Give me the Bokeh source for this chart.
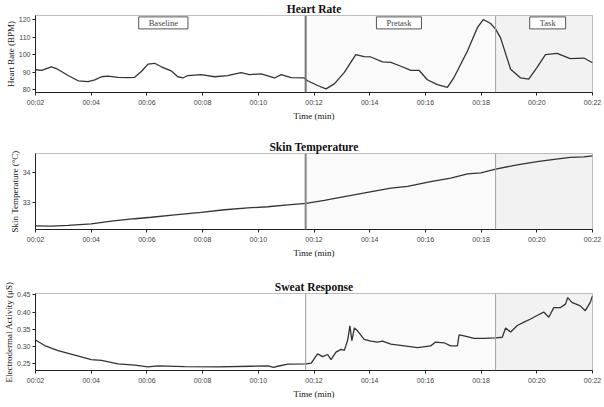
from bokeh.plotting import figure
from bokeh.layouts import column
from bokeh.models import FixedTicker, Label, BoxAnnotation, Span, Range1d, NumeralTickFormatter
from bokeh.embed import file_html
from bokeh.resources import INLINE

# ---------------- data ----------------
tick_pos = [2, 4, 6, 8, 10, 12, 14, 16, 18, 20, 22]
tick_labels = ["00:02", "00:04", "00:06", "00:08", "00:10", "00:12",
               "00:14", "00:16", "00:18", "00:20", "00:22"]

phase_names = ["Baseline", "Pretask", "Task"]
phase_start = [2.0, 11.7, 18.52]
phase_end = [11.7, 18.52, 22.0]
phase_label_t = [6.59, 15.05, 20.39]

hr_t = [2.0, 2.22, 2.57, 2.75, 2.93, 3.17, 3.53, 3.89, 4.13, 4.37, 4.6, 4.96, 5.32, 5.56,
        5.8, 6.04, 6.28, 6.52, 6.87, 7.11, 7.29, 7.47, 7.95, 8.43, 8.9, 9.38, 9.68, 10.1,
        10.58, 10.82, 11.18, 11.65, 11.77, 12.13, 12.43, 12.73, 13.09, 13.5, 13.8, 14.04,
        14.46, 14.76, 15.12, 15.48, 15.77, 16.07, 16.43, 16.79, 17.03, 17.51, 17.87, 18.08,
        18.34, 18.52, 18.7, 19.06, 19.42, 19.71, 20.01, 20.31, 20.73, 21.2, 21.69, 22.0]
hr_v = [91.3, 91, 93, 92, 90.3, 88, 85, 84.5, 85.5, 87.3, 87.7, 87, 86.8, 87,
        90.3, 94.5, 95, 93, 90.7, 87.3, 86.6, 88, 88.5, 87.3, 88, 89.6, 88.5, 89,
        86.6, 88.5, 86.8, 86.6, 85, 82.3, 80.4, 83.2, 89.8, 100, 98.8, 98.6,
        95.8, 95.5, 93.3, 91, 91, 85.6, 82.8, 81.2, 87, 102, 115.5, 120,
        117.7, 114.5, 109.5, 91.6, 86.6, 86, 92.6, 100, 100.6, 97.7, 98, 95.3]

temp_t = [2.0, 2.57, 3.17, 4.0, 4.72, 5.56, 6.16, 7.0, 7.95, 8.79, 9.63, 10.34, 11.06, 11.71,
          12.37, 13.09, 13.92, 14.76, 15.36, 16.19, 16.91, 17.51, 17.99, 18.52, 19.3, 20.01,
          20.49, 21.2, 21.69, 22.0]
temp_v = [32.23, 32.22, 32.25, 32.3, 32.39, 32.47, 32.52, 32.6, 32.68, 32.77, 32.83, 32.87,
          32.93, 32.98, 33.08, 33.21, 33.35, 33.49, 33.55, 33.71, 33.83, 33.97, 34.0, 34.13,
          34.27, 34.38, 34.44, 34.52, 34.54, 34.57]

eda_t = [2.0, 2.33, 2.81, 3.41, 4.0, 4.37, 4.96, 5.56, 6.04, 6.4, 7.35, 8.55, 9.74, 10.34,
         10.55, 10.7, 11.06, 11.71, 11.9, 12.13, 12.31, 12.49, 12.61, 12.79, 12.97, 13.09,
         13.21, 13.29, 13.36, 13.45, 13.57, 13.8, 14.04, 14.28, 14.46, 14.76, 15.24, 15.72,
         16.19, 16.37, 16.67, 16.91, 17.15, 17.21, 17.39, 17.75, 18.1, 18.52, 18.76, 18.88,
         19.06, 19.3, 19.54, 19.78, 20.01, 20.25, 20.43, 20.61, 20.85, 21.03, 21.11, 21.26,
         21.56, 21.74, 21.92, 22.0]
eda_v = [0.319, 0.303, 0.288, 0.275, 0.262, 0.26, 0.25, 0.246, 0.241, 0.244, 0.242, 0.241,
         0.243, 0.244, 0.24, 0.243, 0.249, 0.25, 0.252, 0.279, 0.271, 0.277, 0.262, 0.284,
         0.292, 0.289, 0.319, 0.36, 0.317, 0.354, 0.345, 0.321, 0.316, 0.313, 0.316, 0.307,
         0.302, 0.297, 0.302, 0.313, 0.311, 0.302, 0.302, 0.334, 0.331, 0.324, 0.324, 0.325,
         0.327, 0.354, 0.342, 0.361, 0.371, 0.38, 0.39, 0.4, 0.385, 0.413, 0.413, 0.423,
         0.442, 0.428, 0.418, 0.404, 0.428, 0.447]

SERIF = "Liberation Serif"
SANS = "Liberation Sans"
phase_fill = ["#ffffff", "#fafafa", "#f2f2f2"]


def make_panel(title, ylabel, t, v, yr, yticks, height, bottom, first_line,
               show_labels, fmt=None):
    p = figure(width=604, height=height, output_backend="svg", toolbar_location=None,
               x_range=Range1d(2, 22), y_range=Range1d(*yr),
               min_border_left=34, min_border_right=12, min_border_top=0,
               min_border_bottom=bottom)
    p.title.text = title
    p.title.align = "center"
    p.title.text_font = SERIF
    p.title.text_font_size = "11.5px"
    p.title.text_font_style = "bold"
    p.title.text_color = "#111111"
    p.title.standoff = 1
    p.title.offset = 0
    p.xgrid.visible = False
    p.ygrid.visible = False
    p.outline_line_color = "#aaaaaa"
    p.background_fill_color = "white"
    p.border_fill_color = "white"

    for s, e, c in zip(phase_start, phase_end, phase_fill):
        p.add_layout(BoxAnnotation(left=s, right=e, fill_color=c, fill_alpha=1.0,
                                   line_color=None, level="underlay"))
    lw, lc = first_line
    p.add_layout(Span(location=phase_start[1], dimension="height", line_color=lc,
                      line_width=lw))
    p.add_layout(Span(location=phase_start[2], dimension="height", line_color="#a0a0a0",
                      line_width=1))

    p.line(t, v, line_color="#333333", line_width=1.3)

    p.xaxis.ticker = FixedTicker(ticks=tick_pos)
    p.xaxis.major_label_overrides = {k: s for k, s in zip(tick_pos, tick_labels)}
    p.yaxis.ticker = FixedTicker(ticks=yticks)
    if fmt:
        p.yaxis.formatter = NumeralTickFormatter(format=fmt)
    for ax in (p.xaxis, p.yaxis):
        ax.minor_tick_line_color = None
        ax.major_tick_out = 3
        ax.major_tick_in = 0
        ax.major_label_text_font = SANS
        ax.major_label_text_font_size = "7px"
        ax.major_label_text_color = "#444444"
        ax.axis_line_color = "#222222"
        ax.major_tick_line_color = "#222222"
        ax.axis_label_text_font = SERIF
        ax.axis_label_text_font_style = "normal"
        ax.axis_label_text_color = "#111111"
    p.xaxis.major_label_standoff = 3
    p.yaxis.major_label_standoff = 2
    p.xaxis.axis_label = "Time (min)"
    p.xaxis.axis_label_text_font_size = "9px"
    p.xaxis.axis_label_standoff = 2
    p.yaxis.axis_label = ylabel
    p.yaxis.axis_label_text_font_size = "9px"
    p.yaxis.axis_label_standoff = 0

    if show_labels:
        per_px = (yr[1] - yr[0]) / 78.0
        for name, lt in zip(phase_names, phase_label_t):
            p.add_layout(Label(x=lt, y=yr[1] - 7.5 * per_px, text=name, text_font=SERIF,
                               text_font_size="8.5px", text_align="center",
                               text_baseline="middle", background_fill_color="white",
                               border_line_color="#555555", padding=(10, 1)))
    return p


p1 = make_panel("Heart Rate", "Heart Rate (BPM)", hr_t, hr_v, (78.3, 122.3),
                [80, 90, 100, 110, 120], 138, 46, (2, "#777777"), True)
p2 = make_panel("Skin Temperature", "Skin Temperature (\u00b0C)", temp_t, temp_v,
                (32.11, 34.65), [33, 34], 140, 49, (2, "#888888"), False)
p3 = make_panel("Sweat Response", "Electrodermal Activity (\u03bcS)", eda_t, eda_v,
                (0.2307, 0.4538), [0.25, 0.30, 0.35, 0.40, 0.45], 127, 35,
                (1, "#a0a0a0"), False, fmt="0.00")

layout = column(p1, p2, p3, spacing=0)
html = file_html(layout, INLINE)
html = html.replace("</head>", "<style>body{margin:0;}</style></head>", 1)
open("out.html", "w").write(html)
